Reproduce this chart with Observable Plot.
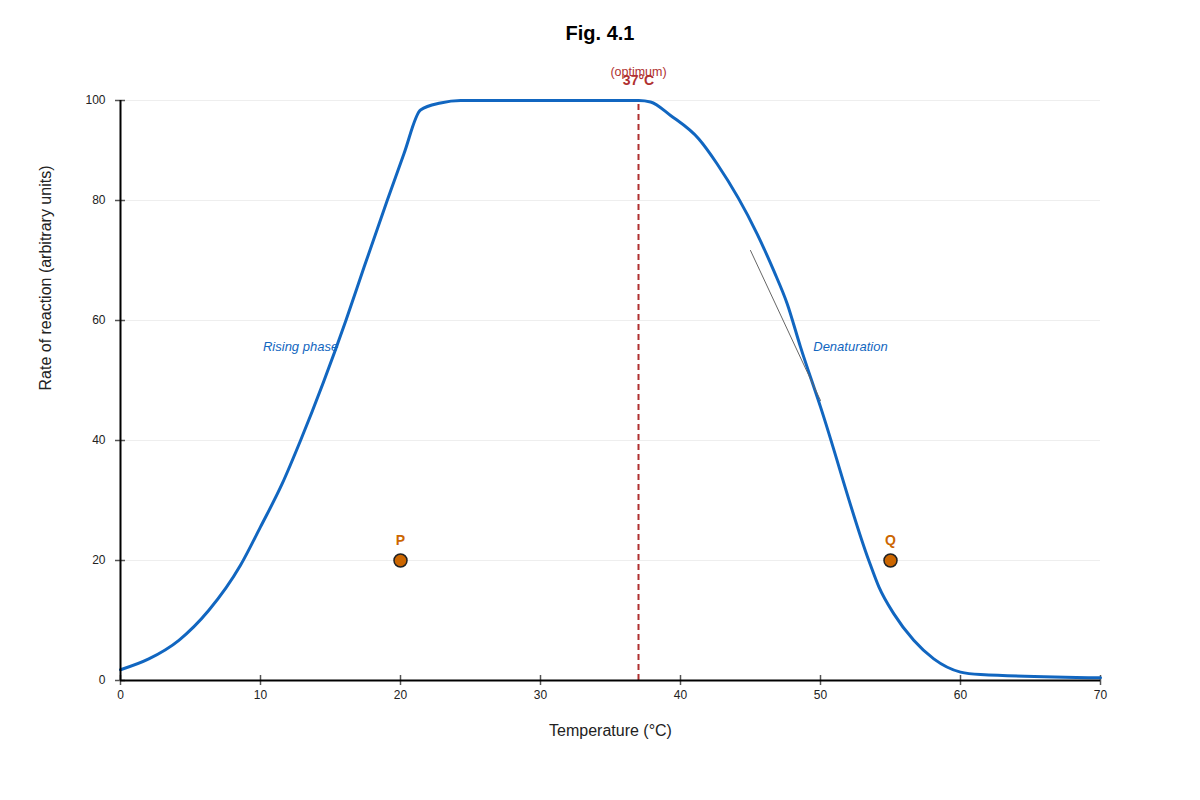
<!DOCTYPE html>
<html>
<head>
<meta charset="utf-8">
<script src="https://cdn.jsdelivr.net/npm/d3@7"></script>
<script src="https://cdn.jsdelivr.net/npm/@observablehq/plot@0.6"></script>
<style>
  body { margin: 0; background: #fff; font-family: "Liberation Sans", Arial, sans-serif; }
  #title { height: 56px; width: 1200px; text-align: center; font-weight: bold; font-size: 20px; line-height: 20px; box-sizing: border-box; position: relative; }
  #title span { position: absolute; left: 0; right: 0; top: 23px; }
</style>
</head>
<body>
<div id="title"><span>Fig. 4.1</span></div>
<div id="chart"></div>
<script>
// Temperature (°C) and rate of reaction
const tempC = [0, 2.02, 4.17, 6.31, 8.57, 10, 11.55, 12.86, 16.1, 17.4, 19.05, 20.24, 21.43, 22.86, 24.3, 30, 37.02, 37.86, 39.29, 41.31, 42.62, 45.48, 46.66, 47.62, 48.57, 50, 53.45, 54.17, 55.24, 56.66, 58.09, 60, 61.43, 70];
const rate  = [1.8, 3.6, 6.7, 11.7, 19.2, 25.6, 32.8, 40, 60, 68.9, 80, 89.3, 98.1, 99.5, 100, 100, 100, 99.7, 97, 92.3, 87.3, 74.4, 68.3, 62.8, 55.6, 45.6, 20, 15.6, 11.1, 6.7, 3.6, 1.4, 1.0, 0.45];

const optimumTemp = 37;
const pointLabels = ["P", "Q"];
const pointTemp = [20, 55];
const pointRate = [20, 20];

const tangentTemp = [45, 50];
const tangentRate = [71.67, 46.67];

const phaseLabels = ["Rising phase", "Denaturation"];
const phaseTemp = [12.86, 52.14];
const phaseRate = [55.6, 55.6];

const xTicks = [0, 10, 20, 30, 40, 50, 60, 70];
const yTicks = [0, 20, 40, 60, 80, 100];
const yGrid = [20, 40, 60, 80, 100];

const curve = tempC.map((t, i) => ({t, r: rate[i]}));
const pts = pointLabels.map((l, i) => ({l, t: pointTemp[i], r: pointRate[i]}));
const tangent = tangentTemp.map((t, i) => ({t, r: tangentRate[i]}));
const phases = phaseLabels.map((l, i) => ({l, t: phaseTemp[i], r: phaseRate[i]}));

// the figure's rate axis is compressed above 80 (80→100 spans 5/6 of the spacing below)
const squeeze = v => (v <= 80 ? v : 80 + (v - 80) * 5 / 6);

const W = 1200, H = 744, mt = 44, mb = 120, ml = 120, mr = 100;
const red = "#b03030", blue = "#1166c0", orange = "#cc6600";

const chart = Plot.plot({
  width: W, height: H,
  marginTop: mt, marginBottom: mb, marginLeft: ml, marginRight: mr,
  style: {fontFamily: "'Liberation Sans', Arial, sans-serif", fontSize: "12px", color: "#222", background: "#fff", overflow: "visible"},
  x: {domain: [0, 70]},
  y: {transform: squeeze, domain: [0, squeeze(100)], axis: null},
  marks: [
    Plot.ruleY(yGrid, {y: d => d, stroke: "#eeeeee", strokeWidth: 1}),
    Plot.axisX({ticks: xTicks, tickSize: 0, tickPadding: 10, label: null, fontSize: 12, tickFormat: d => d}),
    Plot.text(yTicks, {x: () => 0, y: d => d, text: d => String(d), dx: -15, textAnchor: "end", fontSize: 12, fill: "#222"}),
    Plot.ruleX(xTicks, {x: d => d, y1: 0, y2: 0, insetTop: -5, insetBottom: -5, stroke: "#555", strokeWidth: 1.5}),
    Plot.ruleY(yTicks, {y: d => d, x1: 0, x2: 0, insetLeft: -5, insetRight: -5, stroke: "#555", strokeWidth: 1.5}),
    Plot.ruleX([optimumTemp], {x: d => d, y1: 0, y2: 100, stroke: red, strokeWidth: 2, strokeDasharray: "6,4"}),
    Plot.line(curve, {x: "t", y: "r", stroke: blue, strokeWidth: 3, curve: "monotone-x"}),
    Plot.line(tangent, {x: "t", y: "r", stroke: "#666", strokeWidth: 1}),
    Plot.ruleY([0], {y: d => d, stroke: "#000", strokeWidth: 2}),
    Plot.ruleX([0], {x: d => d, y1: 0, y2: 100, stroke: "#000", strokeWidth: 2}),
    Plot.text(phases, {x: "t", y: "r", text: "l", fill: blue, fontStyle: "italic", fontSize: 13}),
    Plot.dot(pts, {x: "t", y: "r", r: 6.5, fill: orange, stroke: "#222", strokeWidth: 1.5}),
    Plot.text(pts, {x: "t", y: "r", text: "l", dy: -20, fill: orange, fontWeight: "bold", fontSize: 14}),
    Plot.text([optimumTemp], {x: d => d, y: () => 100, text: () => "(optimum)", dy: -29, fill: red, fontSize: 12.5}),
    Plot.text([optimumTemp], {x: d => d, y: () => 100, text: () => "37°C", dy: -20, fill: red, fontWeight: "bold", fontSize: 14}),
    Plot.text(["Rate of reaction (arbitrary units)"], {frameAnchor: "left", text: d => d, rotate: -90, dx: -75, fontSize: 16, fill: "#222"}),
    Plot.text(["Temperature (°C)"], {frameAnchor: "bottom", text: d => d, dy: 55, fontSize: 16, fill: "#222"})
  ]
});
document.getElementById("chart").appendChild(chart);
</script>
</body>
</html>
